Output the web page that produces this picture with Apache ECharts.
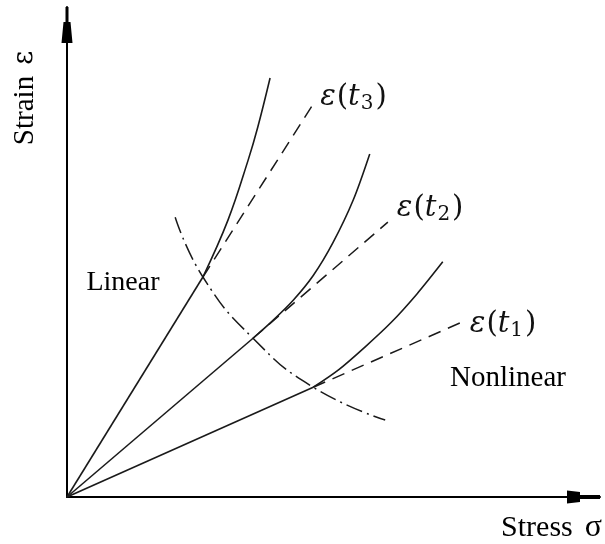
<!DOCTYPE html>
<html>
<head>
<meta charset="utf-8">
<script src="https://cdn.jsdelivr.net/npm/echarts@6/dist/echarts.min.js"></script>
<style>
  html, body { margin: 0; padding: 0; background: #fff; }
  #chart { width: 605px; height: 544px; }
</style>
</head>
<body>
<div id="chart"></div>
<script>
// Isochronous stress–strain curves at three times t1 < t2 < t3.
// Each curve is linear up to its knee, then bends upward (nonlinear creep).
const linear1 = [[0, 0], [4.62, 2.24]];
const linear2 = [[0, 0], [3.49, 3.24]];
const linear3 = [[0, 0], [2.55, 4.49]];

const nonlinear1 = [[4.62, 2.24], [5.10, 2.60], [5.59, 3.06], [6.08, 3.56], [6.57, 4.15], [7.05, 4.80]];
const nonlinear2 = [[3.49, 3.24], [3.86, 3.60], [4.24, 4.01], [4.62, 4.52], [4.99, 5.19], [5.37, 6.06], [5.68, 7.00]];
const nonlinear3 = [[2.55, 4.49], [3.02, 5.65], [3.40, 6.88], [3.58, 7.55], [3.81, 8.55]];

// Linear extrapolation beyond each knee
const extension1 = [[4.62, 2.24], [7.37, 3.55]];
const extension2 = [[3.49, 3.24], [6.02, 5.61]];
const extension3 = [[2.55, 4.49], [4.62, 8.02]];

// Boundary between the linear and nonlinear regions, through the knees
const limitLine = [[2.03, 5.71], [2.55, 4.49], [3.49, 3.24], [4.62, 2.24], [5.97, 1.57]];

const timeIndex = ['1', '2', '3'];
const xTitle = ['Stress', 'σ'];
const yTitle = ['Strain', 'ε'];
const regionLinear = 'Linear';
const regionNonlinear = 'Nonlinear';

const INK = '#1a1a1a';
const SERIF = '"Liberation Serif", "Times New Roman", serif';
const MATH = '"DejaVu Serif", serif';

const chart = echarts.init(document.getElementById('chart'), null, { renderer: 'canvas' });

function solid(data, smooth) {
  return {
    type: 'line', data, smooth, showSymbol: false, symbol: 'none',
    lineStyle: { color: INK, width: 1.6 }, silent: true, z: 3
  };
}

const labelOffsets = [[5, 1], [4, -14], [2, -7]];
function extension(data, i) {
  const pts = data.map((p, k) => k === data.length - 1 ? {
    value: p,
    label: {
      show: true, position: 'right', distance: 5, offset: labelOffsets[i],
      formatter: '{e|ε}{p|(}{t|t}{s|' + timeIndex[i] + '}{p|)}',
      rich: {
        e: { fontFamily: MATH, fontStyle: 'italic', fontSize: 29, color: '#111', padding: [0, 1, 0, 0] },
        p: { fontFamily: MATH, fontSize: 29, color: '#111' },
        t: { fontFamily: MATH, fontStyle: 'italic', fontSize: 29, color: '#111', padding: [0, 1, 0, 0] },
        s: { fontFamily: MATH, fontSize: 20, color: '#111', padding: [13, 2, 0, 0] }
      }
    }
  } : p);
  return {
    type: 'line', data: pts, showSymbol: true, symbol: 'circle', symbolSize: 0,
    lineStyle: { color: INK, width: 1.5, type: [13, 8] }, silent: true, z: 2
  };
}

const axisArrowY = 'path://M4 0 L7 0 L7 15 L9 15 L11 36 L0 36 L2 15 L4 15 Z';
const axisArrowX = 'path://M4.5 0 L8.5 0 L8.5 20 L11.5 20 L13 33 L0 33 L1.5 20 L4.5 20 Z';

chart.setOption({
  animation: false,
  backgroundColor: '#fff',
  grid: { left: 67, right: 5, top: 7, bottom: 47 },
  xAxis: {
    type: 'value', min: 0, max: 10,
    axisLine: {
      show: true, onZero: false,
      lineStyle: { color: '#000', width: 2 },
      symbol: ['none', axisArrowX], symbolSize: [13, 33], symbolOffset: [0, -16.5]
    },
    axisTick: { show: false }, axisLabel: { show: false }, splitLine: { show: false }
  },
  yAxis: {
    type: 'value', min: 0, max: 10,
    axisLine: {
      show: true, onZero: false,
      lineStyle: { color: '#000', width: 2 },
      symbol: ['none', axisArrowY], symbolSize: [11, 36], symbolOffset: [0, -18]
    },
    axisTick: { show: false }, axisLabel: { show: false }, splitLine: { show: false }
  },
  series: [
    solid(linear1, false), solid(linear2, false), solid(linear3, false),
    solid(nonlinear1, 0.3), solid(nonlinear2, 0.3), solid(nonlinear3, 0.4),
    extension(extension1, 0), extension(extension2, 1), extension(extension3, 2),
    {
      type: 'line', data: limitLine, smooth: 0.5, showSymbol: false, symbol: 'none',
      lineStyle: { color: INK, width: 1.5, type: [17, 5, 2, 5] }, silent: true, z: 2
    }
  ],
  graphic: [
    {
      type: 'text', x: 25, y: 98, rotation: Math.PI / 2,
      style: {
        text: '{a|' + yTitle[0] + '}{b|' + yTitle[1] + '}',
        align: 'center', verticalAlign: 'middle',
        rich: {
          a: { fontFamily: SERIF, fontSize: 29, color: '#000' },
          b: { fontFamily: MATH, fontSize: 27, color: '#000', padding: [0, 0, 0, 11] }
        }
      }
    },
    {
      type: 'text', x: 602, y: 528,
      style: {
        text: '{a|' + xTitle[0] + '}{b|' + xTitle[1] + '}',
        align: 'right', verticalAlign: 'middle',
        rich: {
          a: { fontFamily: SERIF, fontSize: 30, color: '#000' },
          b: { fontFamily: SERIF, fontSize: 32, color: '#000', padding: [0, 0, 0, 12] }
        }
      }
    },
    {
      type: 'text', x: 123, y: 283,
      style: { text: regionLinear, font: '28px ' + SERIF, fill: '#000', align: 'center', verticalAlign: 'middle' }
    },
    {
      type: 'text', x: 508, y: 378,
      style: { text: regionNonlinear, font: '29px ' + SERIF, fill: '#000', align: 'center', verticalAlign: 'middle' }
    }
  ]
});
</script>
</body>
</html>
